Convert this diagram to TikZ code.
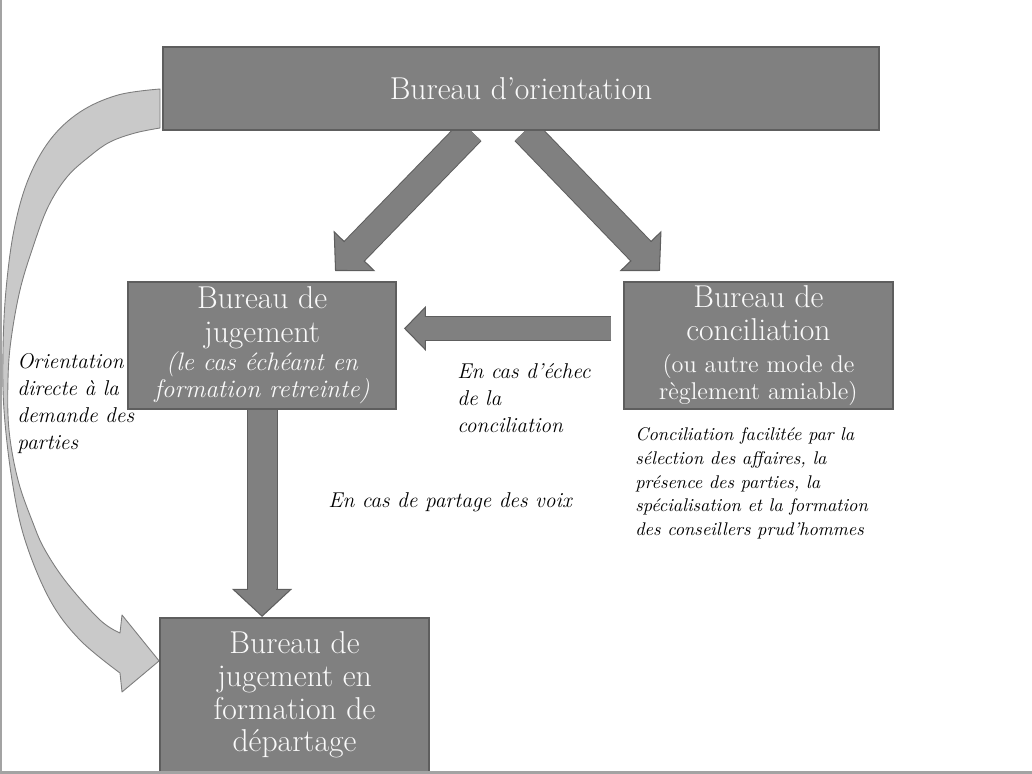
\documentclass[tikz,border=0pt]{standalone}
\usepackage{tikz}
\usetikzlibrary{arrows.meta,backgrounds}
\definecolor{boxgray}{HTML}{808080}
\definecolor{boxline}{HTML}{5E5E5E}
\definecolor{boxtext}{HTML}{FAFAFA}
\definecolor{curvefill}{HTML}{C9C9C9}
\definecolor{curveline}{HTML}{7D7D7D}
\definecolor{framegray}{HTML}{A3A3A3}
\newcommand{\souslig}{\fontsize{13.8}{15.3}\selectfont}
\newcommand{\sousit}{\fontsize{14.4}{15.3}\selectfont\itshape}

\begin{document}
\begin{tikzpicture}[
    x=0.02cm,
    y=-0.02cm,
    font=\rmfamily,
    bureau/.style={
		rectangle,
		draw=boxline,
		line width=1.1pt,
		fill=boxgray,
		text=boxtext,
		align=center,
		inner sep=0pt,
		font=\fontsize{18}{15.3}\selectfont
	},
	remarque/.style={
		align=left,
		inner sep=0pt,
		anchor=north west,
		font=\fontsize{12.2}{15.3}\selectfont\itshape
	},
	precision/.style={
		align=left,
		inner sep=0pt,
		anchor=north west,
		font=\fontsize{10.45}{13.6}\selectfont\itshape
	},
	fleche/.style n args={3}{
		draw=boxgray,
		line width=#1,
		-{Triangle[length=#2, width=#3, line width=0.6pt, fill=boxgray, color=boxline]},
		preaction={draw=boxline, line width=#1+1.2pt, -, shorten >=#2-0.5pt},
		postaction={draw=boxgray, line width=#1-0.2pt, -, shorten >=#2-1.5pt}
	},
	courbe/.style={
		fill=curvefill,
		draw=curveline,
		line width=0.5pt,
		line join=round
	},
	cadre/.style={
		draw=framegray,
		line width=1.2pt
	}
  ]

 \useasboundingbox (0,0) rectangle (1032,774);

% // The bureaux
 \node [bureau, minimum width=14.32cm, minimum height=1.66cm] (orient) at (521,88.5) {Bureau d’orientation};
 \node [bureau, minimum width=5.36cm, minimum height=2.54cm, node distance=5.14cm, below of=orient, xshift=-5.18cm] (jug)
 {%
  Bureau de\\[4pt]
  jugement\\[0.6pt]
  {\sousit (le cas échéant en}\\
  {\sousit formation retreinte)}
 };
 \node [bureau, minimum width=5.38cm, minimum height=2.54cm, node distance=5.14cm, below of=orient, xshift=4.75cm] (concil)
 {%
  Bureau de\\[3.4pt]
  conciliation\\[2.8pt]
  {\souslig (ou autre mode de}\\
  {\souslig règlement amiable)}
 };
 \node [bureau, minimum width=5.38cm, minimum height=3.08cm, node distance=6.99cm, below of=jug, xshift=0.65cm,
 font=\fontsize{18}{18.7}\selectfont] (depart)
 {%
  Bureau de\\
  jugement en\\
  formation de\\
  départage
 };

% // The arrows
\begin{scope}[on background layer]
 \draw [fleche={0.54cm}{0.56cm}{1.16cm}] ([xshift=-1cm]orient.south) -- ([xshift=1.46cm,yshift=0.2cm]jug.north);
 \draw [fleche={0.54cm}{0.56cm}{1.16cm}] ([xshift=0.08cm]orient.south) -- ([xshift=-1.97cm,yshift=0.2cm]concil.north);
 \draw [fleche={0.46cm}{0.44cm}{0.9cm}] ([xshift=-0.24cm,yshift=0.34cm]concil.west) -- ([xshift=0.14cm,yshift=0.34cm]jug.east);
 \draw [fleche={0.58cm}{0.56cm}{1.2cm}] (jug.south) -- ([xshift=-0.65cm]depart.north);

 \coordinate (dirtip) at ([yshift=0.68cm]depart.west);
 \filldraw [courbe] plot [smooth, tension=0.6] coordinates {(160,89) (118,95) (80,112) (50,140) (28,180) (14,230) (6,290) (3,350) (4,410) (12,480) (25,540) (50,600) (80,640) (120,673)}
   -- (122,692) -- (dirtip) -- (122,615)
   -- plot [smooth, tension=0.6] coordinates {(120,633) (100,620) (67,583) (45,550) (33,523) (18,480) (9,430) (8,380) (11,340) (20,290) (33,247) (48,207) (67,177) (90,156) (110,142) (135,133) (160,128)} -- cycle;
\end{scope}

% // The remarks
 \node [remarque] (orientdir) at (17,353) {Orientation\\directe à la\\demande des\\parties};
 \node [remarque] (echec) at (457,363) {En cas d’échec\\de la\\conciliation};
 \node [remarque, anchor=base west] (partage) at (328,507) {En cas de partage des voix};
 \node [precision] (facil) at (635,427)
 {%
  Conciliation facilitée par la\\
  sélection des affaires, la\\
  présence des parties, la\\
  spécialisation et la formation\\
  des conseillers prud’hommes
 };

 \draw [cadre] (1,0) -- (1,772.5) -- (1032,772.5);

\end{tikzpicture}
\end{document}
